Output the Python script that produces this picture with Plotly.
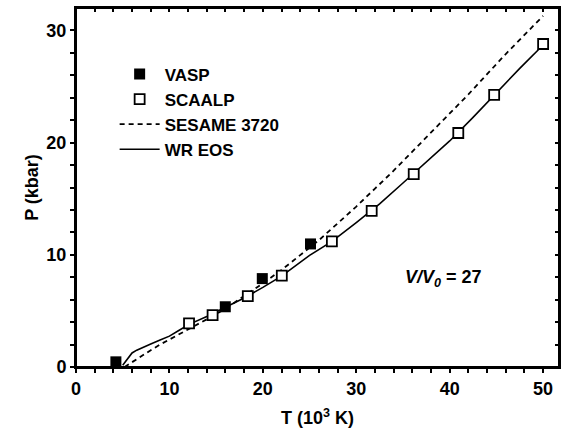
import plotly.graph_objects as go

# ---- data ----
vasp_T = [4.27, 15.98, 19.94, 25.1]
vasp_P = [0.46, 5.37, 7.88, 10.97]

scaalp_T = [12.1, 14.62, 18.39, 22.03, 27.39, 31.65, 36.15, 40.92, 44.76, 50.0]
scaalp_P = [3.89, 4.63, 6.31, 8.14, 11.2, 13.92, 17.2, 20.86, 24.25, 28.79]

sesame_T = [5.2, 6, 7, 8, 9, 10, 12, 14, 16, 18, 20, 22, 24, 26, 28, 30, 32, 34, 36,
            38, 40, 42, 44, 46, 48, 50]
sesame_P = [0.0, 0.45, 1.0, 1.5, 2.0, 2.45, 3.3, 4.25, 5.2, 6.3, 7.45, 8.65, 9.95, 11.3,
            12.8, 14.3, 15.9, 17.5, 19.2, 20.9, 22.6, 24.3, 26.1, 27.9, 29.6, 31.3]

wr_T = [5.0, 5.5, 6.0, 6.5, 7, 8, 9, 10, 11, 12.1, 14, 16, 18, 20, 22, 25, 27.4, 30,
        32.5, 35, 37.5, 40, 42.5, 45, 47.5, 50]
wr_P = [0.15, 0.75, 1.25, 1.5, 1.7, 2.05, 2.4, 2.75, 3.25, 3.8, 4.5, 5.35, 6.15, 7.1,
        8.1, 9.95, 11.2, 12.87, 14.54, 16.4, 18.24, 20.15, 22.25, 24.45, 26.62, 28.7]

# tick positions (every 2) and labels (every 10)
x_tick_vals = [0, 2, 4, 6, 8, 10, 12, 14, 16, 18, 20, 22, 24, 26, 28, 30, 32, 34, 36,
               38, 40, 42, 44, 46, 48, 50]
x_tick_text = ["0", "", "", "", "", "10", "", "", "", "", "20", "", "", "", "", "30",
               "", "", "", "", "40", "", "", "", "", "50"]
y_tick_vals = [0, 2, 4, 6, 8, 10, 12, 14, 16, 18, 20, 22, 24, 26, 28, 30]
y_tick_text = ["0", "", "", "", "", "10", "", "", "", "", "20", "", "", "", "", "30"]

x_range = [0, 51.7]
y_range = [0, 32]

FONT = "Liberation Sans, Arial, sans-serif"

fig = go.Figure()

# lines on the primary axes
fig.add_trace(go.Scatter(x=sesame_T, y=sesame_P, mode="lines", name="SESAME 3720",
                         line=dict(color="black", width=1.8, dash="5px,4px"),
                         legendrank=3))
fig.add_trace(go.Scatter(x=wr_T, y=wr_P, mode="lines", name="WR EOS",
                         line=dict(color="black", width=1.6), legendrank=4))
# markers on the top/right axes (same ranges, drawn above the lines)
fig.add_trace(go.Scatter(x=scaalp_T, y=scaalp_P, mode="markers", name="SCAALP",
                         xaxis="x2", yaxis="y2",
                         marker=dict(symbol="square", size=10, color="white",
                                     line=dict(color="black", width=1.8)),
                         legendrank=2))
fig.add_trace(go.Scatter(x=vasp_T, y=vasp_P, mode="markers", name="VASP",
                         xaxis="x2", yaxis="y2",
                         marker=dict(symbol="square", size=11, color="black",
                                     line=dict(color="black", width=0)),
                         legendrank=1))

tfont = dict(family=FONT, size=18, color="black", weight="bold")

fig.update_layout(
    width=567, height=436,
    margin=dict(l=76, r=8, t=6, b=69),
    paper_bgcolor="white", plot_bgcolor="white",
    font=dict(family=FONT, color="black", size=18, weight="bold"),
    showlegend=True,
    legend=dict(x=0.080, y=0.865, xanchor="left", yanchor="top",
                bgcolor="rgba(0,0,0,0)", itemwidth=40,
                font=dict(family=FONT, size=17, color="black", weight="bold")),
    xaxis=dict(range=x_range, tickmode="array", tickvals=x_tick_vals, ticktext=x_tick_text,
               ticks="outside", ticklen=4, tickwidth=1.5, tickcolor="black",
               showgrid=False, zeroline=False, showline=True, mirror=True,
               linecolor="black", linewidth=2, tickfont=tfont,
               title=dict(text="T (10<sup>3</sup> K)", standoff=14, font=tfont)),
    yaxis=dict(range=y_range, tickmode="array", tickvals=y_tick_vals, ticktext=y_tick_text,
               ticks="outside", ticklen=4, tickwidth=1.5, tickcolor="black",
               showgrid=False, zeroline=False, showline=True, mirror=True,
               linecolor="black", linewidth=2, tickfont=tfont,
               title=dict(text="P (kbar)", standoff=3, font=tfont)),
    xaxis2=dict(range=x_range, overlaying="x", side="top", tickmode="array",
                tickvals=x_tick_vals, ticks="inside", ticklen=4, tickwidth=1.5,
                tickcolor="black", showticklabels=False, showgrid=False, zeroline=False,
                showline=True, linecolor="black", linewidth=2),
    yaxis2=dict(range=y_range, overlaying="y", side="right", tickmode="array",
                tickvals=y_tick_vals, ticks="inside", ticklen=4, tickwidth=1.5,
                tickcolor="black", showticklabels=False, showgrid=False, zeroline=False,
                showline=True, linecolor="black", linewidth=2),
)

# plot frame (all four sides)
fig.add_shape(type="rect", xref="paper", yref="paper", x0=0, y0=0, x1=1, y1=1,
              line=dict(color="black", width=2), fillcolor="rgba(0,0,0,0)", layer="above")

fig.add_annotation(x=39.3, y=7.85, xref="x", yref="y", showarrow=False,
                   text="<i>V/V<sub>0</sub></i> = 27",
                   font=dict(family=FONT, size=18, color="black", weight="bold"))

fig.write_html("out.html", config={"displayModeBar": False},
               post_script=("document.body.style.margin='0px';"
                            "document.body.style.overflow='hidden';"
                            "document.documentElement.style.overflow='hidden';"))
